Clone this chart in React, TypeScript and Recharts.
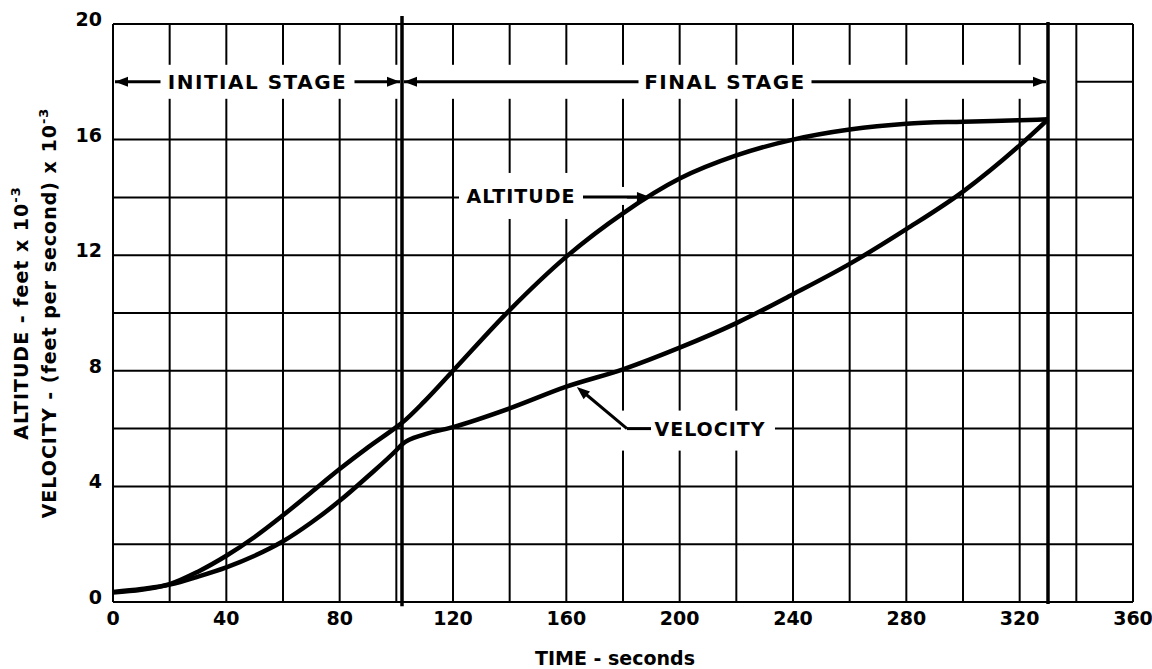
import { LineChart, Line, XAxis, YAxis, CartesianGrid, ReferenceLine, Label } from 'recharts';

// time after launch, seconds
const timeSeconds = [0, 10, 20, 30, 40, 50, 60, 70, 80, 90, 100, 102, 110, 120, 140, 160, 180, 200, 220, 240, 260, 280, 300, 320, 330];
// altitude, feet x 10^-3
const altitude = [0.35, 0.45, 0.62, 1.05, 1.6, 2.25, 3.0, 3.8, 4.6, 5.35, 6.05, 6.2, 6.95, 8.0, 10.1, 11.95, 13.45, 14.65, 15.45, 16.0, 16.35, 16.55, 16.62, 16.67, 16.7];
// velocity, feet per second x 10^-3
const velocity = [0.33, 0.42, 0.6, 0.88, 1.2, 1.6, 2.1, 2.75, 3.5, 4.35, 5.25, 5.45, 5.8, 6.05, 6.7, 7.45, 8.05, 8.8, 9.65, 10.65, 11.7, 12.9, 14.2, 15.8, 16.7];

const xTicks = [0, 40, 80, 120, 160, 200, 240, 280, 320, 360];
const yTicks = [0, 4, 8, 12, 16, 20];
const xGrid = [0, 20, 40, 60, 80, 100, 120, 140, 160, 180, 200, 220, 240, 260, 280, 300, 320, 340, 360];
const yGrid = [0, 2, 4, 6, 8, 10, 12, 14, 16, 20];

const initialStageEnd = 102;
const finalStageEnd = 330;
const stageRowY = 18;

const data = timeSeconds.map((t, i) => ({ t, altitude: altitude[i], velocity: velocity[i] }));

const INK = '#000';
const FONT = '"DejaVu Sans", Verdana, sans-serif';

function head(tipX: number, tipY: number, fromX: number, fromY: number, len = 13, half = 5) {
  const dx = tipX - fromX;
  const dy = tipY - fromY;
  const d = Math.hypot(dx, dy) || 1;
  const ux = dx / d;
  const uy = dy / d;
  const bx = tipX - ux * len;
  const by = tipY - uy * len;
  return `${tipX},${tipY} ${bx - uy * half},${by + ux * half} ${bx + uy * half},${by - ux * half}`;
}

const labelText = { fontFamily: FONT, fontWeight: 'bold' as const, fill: INK };

function stageShape(label: string, textWidth: number) {
  return (p: any) => {
    const { x1, y1, x2 } = p;
    const l = x1 + 2;
    const r = x2 - 2;
    const cx = (x1 + x2) / 2;
    const gap = textWidth / 2 + 6;
    return (
      <g>
        <rect x={l} y={y1 - 17} width={r - l} height={34} fill="#fff" />
        <line x1={l} y1={y1} x2={cx - gap} y2={y1} stroke={INK} strokeWidth={3} />
        <line x1={cx + gap} y1={y1} x2={r} y2={y1} stroke={INK} strokeWidth={3} />
        <polygon points={head(l, y1, l + 20, y1)} fill={INK} />
        <polygon points={head(r, y1, r - 20, y1)} fill={INK} />
        <text x={cx} y={y1 + 7} textAnchor="middle" fontSize={20} letterSpacing={1.5} {...labelText}>
          {label}
        </text>
      </g>
    );
  };
}

// text centred at (x1, y1), arrow pointing right to (x2, y2)
const altitudeShape = (p: any) => {
  const { x1, y1, x2, y2 } = p;
  return (
    <g>
      <rect x={x1 - 62} y={y1 - 23} width={124} height={46} fill="#fff" />
      <rect x={x1 + 62} y={y1 - 9} width={x2 - x1 - 85} height={18} fill="#fff" />
      <line x1={x1 + 62} y1={y1 + 1} x2={x2 - 6} y2={y2 + 1} stroke={INK} strokeWidth={3} />
      <polygon points={head(x2, y2 + 1, x1, y1 + 1)} fill={INK} />
      <text x={x1} y={y1 + 7} textAnchor="middle" fontSize={19} letterSpacing={1} {...labelText}>
        ALTITUDE
      </text>
    </g>
  );
};

// text centred at (x1, y1), elbow leader up-left to the curve at (x2, y2)
const velocityShape = (p: any) => {
  const { x1, y1, x2, y2 } = p;
  const ex = x1 - 83;
  return (
    <g>
      <rect x={ex - 6} y={y1 - 18} width={x1 + 65 - (ex - 6)} height={40} fill="#fff" />
      <line x1={ex} y1={y1} x2={x1 - 59} y2={y1} stroke={INK} strokeWidth={3} />
      <line x1={ex} y1={y1} x2={x2 + 4} y2={y2 + 3} stroke={INK} strokeWidth={3} />
      <polygon points={head(x2, y2, ex, y1)} fill={INK} />
      <text x={x1} y={y1 + 7} textAnchor="middle" fontSize={19} letterSpacing={1} {...labelText}>
        VELOCITY
      </text>
    </g>
  );
};

const XTick = (p: any) => (
  <text x={p.x} y={p.y + 15} textAnchor="middle" fontSize={19} {...labelText}>
    {p.payload.value}
  </text>
);

const YTick = (p: any) => (
  <text x={p.x - 3} y={p.payload.coordinate + 2} textAnchor="end" fontSize={19} {...labelText}>
    {p.payload.value}
  </text>
);

const YTitle = (p: any) => {
  const { x, y, height } = p.viewBox;
  const cy = y + height / 2;
  return (
    <g>
      <text transform={`rotate(-90, ${x + 21}, ${cy})`} x={x + 21} y={cy} dy={7} textAnchor="middle" fontSize={19} letterSpacing={1} {...labelText}>
        ALTITUDE - feet x 10<tspan dy={-8} fontSize={13}>-3</tspan>
      </text>
      <text transform={`rotate(-90, ${x + 49}, ${cy})`} x={x + 49} y={cy} dy={7} textAnchor="middle" fontSize={19} letterSpacing={1} {...labelText}>
        VELOCITY - (feet per second) x 10<tspan dy={-8} fontSize={13}>-3</tspan>
      </text>
    </g>
  );
};

const XTitle = (p: any) => {
  const { x, y, width } = p.viewBox;
  return (
    <text x={x + width / 2 - 8} y={y + 63} textAnchor="middle" fontSize={19} {...labelText}>
      TIME - seconds
    </text>
  );
};

export default function App() {
  return (
    <div style={{ position: 'absolute', left: 0, top: 0, width: 1152, height: 669, background: '#fff' }}>
      <LineChart width={1152} height={669} data={data} margin={{ top: 24, right: 19, bottom: 0, left: 0 }}>
        <CartesianGrid stroke={INK} strokeWidth={2} horizontalValues={yGrid} verticalValues={xGrid} />
        <XAxis
          dataKey="t"
          type="number"
          domain={[0, 360]}
          ticks={xTicks}
          interval={0}
          height={67}
          axisLine={false}
          tickLine={false}
          tick={XTick}
        >
          <Label content={XTitle} />
        </XAxis>
        <YAxis
          type="number"
          domain={[0, 20]}
          ticks={yTicks}
          interval={0}
          width={113}
          axisLine={false}
          tickLine={false}
          tick={YTick}
        >
          <Label content={YTitle} />
        </YAxis>
        <ReferenceLine
          segment={[{ x: 340, y: stageRowY }, { x: 360, y: stageRowY }]}
          stroke={INK}
          strokeWidth={2}
          ifOverflow="visible"
        />
        <ReferenceLine
          segment={[{ x: 0, y: stageRowY }, { x: initialStageEnd, y: stageRowY }]}
          ifOverflow="visible"
          shape={stageShape('INITIAL STAGE', 182)}
        />
        <ReferenceLine
          segment={[{ x: initialStageEnd, y: stageRowY }, { x: finalStageEnd, y: stageRowY }]}
          ifOverflow="visible"
          shape={stageShape('FINAL STAGE', 161)}
        />
        <ReferenceLine
          segment={[{ x: initialStageEnd, y: -0.15 }, { x: initialStageEnd, y: 20.28 }]}
          stroke={INK}
          strokeWidth={3.5}
          ifOverflow="visible"
        />
        <ReferenceLine
          segment={[{ x: finalStageEnd, y: -0.07 }, { x: finalStageEnd, y: 20.07 }]}
          stroke={INK}
          strokeWidth={3.5}
          ifOverflow="visible"
        />
        <ReferenceLine
          segment={[{ x: 144, y: 14.05 }, { x: 189.5, y: 14.05 }]}
          ifOverflow="visible"
          shape={altitudeShape}
        />
        <ReferenceLine
          segment={[{ x: 210.7, y: 6.0 }, { x: 163.7, y: 7.44 }]}
          ifOverflow="visible"
          shape={velocityShape}
        />
        <Line dataKey="altitude" type="monotone" stroke={INK} strokeWidth={4.5} dot={false} isAnimationActive={false} />
        <Line dataKey="velocity" type="monotone" stroke={INK} strokeWidth={4.5} dot={false} isAnimationActive={false} />
      </LineChart>
    </div>
  );
}
